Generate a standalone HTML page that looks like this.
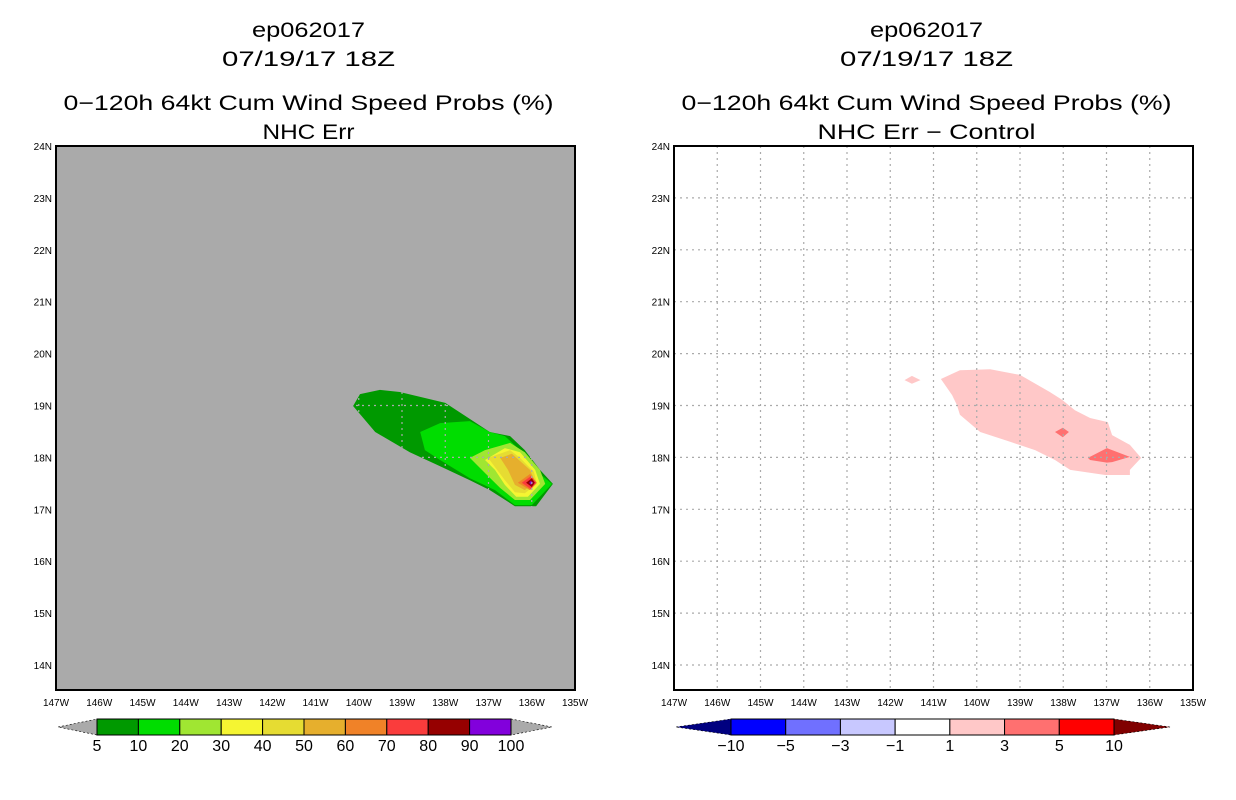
<!DOCTYPE html>
<html><head><meta charset="utf-8"><style>
body{margin:0;background:#fff;}
svg{display:block;font-family:"Liberation Sans",sans-serif;}
</style></head><body>
<svg id="c" width="1236" height="800" viewBox="0 0 1236 800"></svg>
<script>
const lonTicks=[147,146,145,144,143,142,141,140,139,138,137,136,135];
const latTicks=[14,15,16,17,18,19,20,21,22,23,24];
const leftColors=["#009900","#00dd00","#a0e632","#f5f532","#e6dc32","#e6af2d","#f08228","#fa3c3c","#960000","#8200dc"];
const leftLevels=["5","10","20","30","40","50","60","70","80","90","100"];
const rightColors=["#0000ff","#7070ff","#c8c8ff","#ffffff","#ffc8c8","#ff7070","#ff0000"];
const rightLevels=["-10","-5","-3","-1","1","3","5","10"];
// contours [lonW, lat]
const probPolys=[
 [0,[[140.13,18.99],[139.97,19.22],[139.51,19.30],[139.05,19.26],[138.0,19.05],[136.97,18.49],[136.5,18.41],[136.16,18.14],[135.81,17.76],[135.51,17.49],[135.9,17.06],[136.39,17.06],[136.97,17.37],[137.43,17.56],[138.12,17.83],[138.82,18.10],[139.62,18.49]]],
 [1,[[138.58,18.49],[138.12,18.66],[137.43,18.70],[136.97,18.49],[136.62,18.41],[136.27,18.14],[135.92,17.76],[135.53,17.49],[136.0,17.08],[136.39,17.08],[136.85,17.37],[137.43,17.60],[138.12,17.95],[138.47,18.14]]],
 [2,[[137.43,17.99],[137.08,18.14],[136.5,18.28],[136.16,18.10],[135.81,17.76],[135.69,17.49],[136.04,17.18],[136.39,17.18],[136.73,17.41],[137.08,17.70]]],
 [3,[[137.08,17.95],[136.62,18.18],[136.27,18.10],[135.92,17.76],[135.81,17.49],[136.09,17.24],[136.36,17.24],[136.62,17.47],[136.85,17.76]]],
 [4,[[137.01,17.99],[136.5,18.14],[136.27,17.99],[135.95,17.72],[135.88,17.49],[136.16,17.31],[136.39,17.33],[136.62,17.56]]],
 [5,[[136.73,17.99],[136.46,18.07],[136.04,17.76],[135.92,17.53],[136.16,17.37],[136.39,17.47],[136.55,17.76]]],
 [6,[[136.32,17.51],[136.04,17.68],[135.88,17.51],[136.04,17.37]]],
 [7,[[136.23,17.51],[136.02,17.64],[135.9,17.51],[136.02,17.39]]],
 [8,[[136.13,17.51],[136.0,17.60],[135.93,17.51],[136.0,17.43]]],
 [9,[[136.06,17.51],[136.02,17.55],[135.97,17.51],[136.02,17.47]]]
];
const diffPolys=[
 [4,[[140.83,19.51],[140.39,19.68],[139.69,19.70],[139.0,19.59],[138.31,19.26],[138.03,19.11],[137.73,18.91],[137.38,18.76],[136.97,18.68],[136.87,18.43],[136.46,18.24],[136.2,17.99],[136.46,17.76],[136.46,17.66],[137.03,17.66],[137.84,17.76],[138.19,17.95],[138.65,18.14],[139.23,18.30],[139.92,18.49],[140.39,18.82],[140.46,19.01],[140.57,19.20]]],
 [4,[[141.67,19.49],[141.5,19.57],[141.3,19.49],[141.5,19.42]]],
 [5,[[138.19,18.49],[138.01,18.57],[137.87,18.49],[138.01,18.39]]],
 [5,[[137.43,17.99],[136.99,18.18],[136.46,18.01],[136.87,17.91],[136.99,17.90],[137.38,17.95]]]
];
const svg=document.getElementById('c');
const NS="http://www.w3.org/2000/svg";
function mk(tag,attrs,parent){const e=document.createElementNS(NS,tag);for(const k in attrs)e.setAttribute(k,attrs[k]);(parent||svg).appendChild(e);return e;}
function txt(x,y,s,size,anchor,parent){const t=mk('text',{x:x,y:y,'font-size':size,'text-anchor':anchor||'middle',fill:'#000'},parent);t.textContent=s;return t;}
function ttl(x,y,s,len,parent){const t=txt(x,y,s,21,'middle',parent);t.setAttribute('textLength',len);t.setAttribute('lengthAdjust','spacingAndGlyphs');return t;}
function panel(x0,name,titles,lens,bg,polys,colors,gridColor){
 const g=mk('g',{});
 
 
 const W=519,y0=146,H=544;
 const xs=lon=>x0+(147-lon)*W/12;
 const ys=lat=>y0+(24-lat)*51.9;
 const cx=x0+W/2-7;
 const t1=ttl(cx,37,titles[0],lens[0],g);
 const t2=ttl(cx,66,titles[1],lens[1],g);
 const t3=ttl(cx,110,titles[2],lens[2],g);
 const t4=ttl(cx,139,titles[3],lens[3],g);
 const bgr=mk('rect',{x:x0,y:y0,width:W,height:H,fill:bg},g);
 
 polys.forEach(p=>{
  const pts=p[1].map(q=>xs(q[0]).toFixed(1)+','+ys(q[1]).toFixed(1)).join(' ');
  const pg=mk('polygon',{points:pts,fill:colors[p[0]]},g);
  
 });
 lonTicks.forEach((l,i)=>{
  const x=xs(l);
  if(i>0&&i<lonTicks.length-1){const ln=mk('line',{x1:x,y1:y0,x2:x,y2:y0+H,stroke:gridColor,'stroke-width':1.2,'stroke-dasharray':'2,4'},g);}
  const t=txt(x,706,l+'W',10,'middle',g);
 });
 latTicks.forEach((l,i)=>{
  const y=ys(l);
  if(i<latTicks.length-1){const ln=mk('line',{x1:x0,y1:y,x2:x0+W,y2:y,stroke:gridColor,'stroke-width':1.2,'stroke-dasharray':'2,4'},g);}
  const t=txt(x0-4,y+4,l+'N',10,'end',g);
 });
 const fr=mk('rect',{x:x0,y:y0,width:W,height:H,fill:'none',stroke:'#000','stroke-width':2},g);
 
}
function colorbar(name,xl,xb0,xb1,xr,colors,levels,triL,triR){
 const g=mk('g',{});
 
 
 const y0=719,y1=735,ym=727,n=colors.length,w=(xb1-xb0)/n;
 const a=mk('polygon',{points:`${xl},${ym} ${xb0},${y0} ${xb0},${y1}`,fill:triL,stroke:'#000','stroke-width':0.6,'stroke-dasharray':'2,2'},g);
 
 const b=mk('polygon',{points:`${xr},${ym} ${xb1},${y0} ${xb1},${y1}`,fill:triR,stroke:'#000','stroke-width':0.6,'stroke-dasharray':'2,2'},g);
 
 colors.forEach((c,i)=>{const r=mk('rect',{x:xb0+i*w,y:y0,width:w,height:y1-y0,fill:c,stroke:'#000','stroke-width':1},g);});
 levels.forEach((s,i)=>{
  const x=(levels.length===n+1)?xb0+i*w:xb0+(i+1)*w;
  const t=txt(x,751,s.replace('-','\u2212'),16,'middle',g);
 });
}
panel(56,'left-panel',['ep062017','07/19/17 18Z','0\u2212120h 64kt Cum Wind Speed Probs (%)','NHC Err'],[113,173,490,92],'#aaaaaa',probPolys,leftColors,'#aaaaaa');
panel(674,'right-panel',['ep062017','07/19/17 18Z','0\u2212120h 64kt Cum Wind Speed Probs (%)','NHC Err \u2212 Control'],[113,173,490,218],'#ffffff',diffPolys,rightColors,'#aaaaaa');
colorbar('left-colorbar',58,97,511,552,leftColors,leftLevels,'#aaaaaa','#aaaaaa');
colorbar('right-colorbar',676,731,1114,1170,rightColors,rightLevels,'#000080','#800000');
</script>
</body></html>
